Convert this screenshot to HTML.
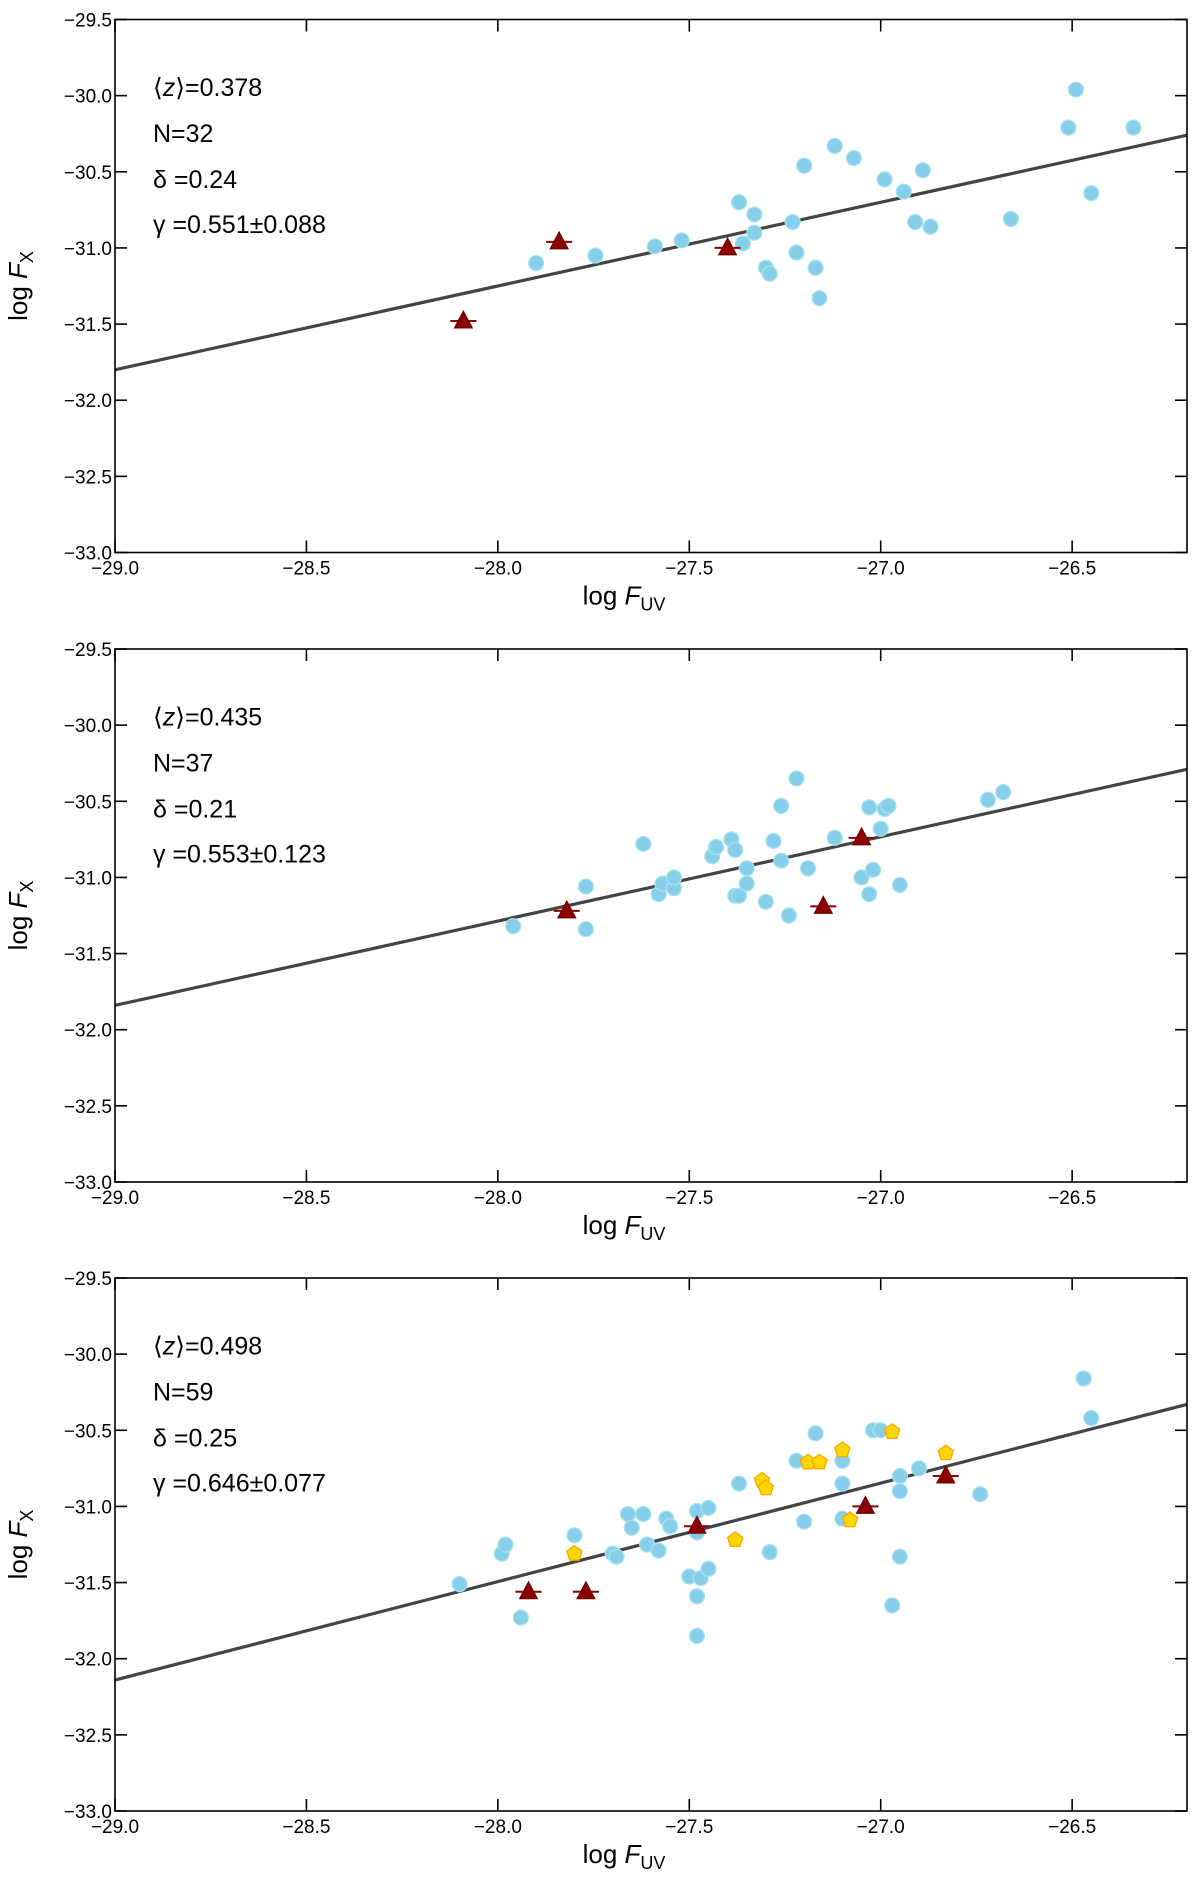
<!DOCTYPE html>
<html><head><meta charset="utf-8"><style>
html,body{margin:0;padding:0;background:#fff;}
svg{display:block;}
text{font-family:"Liberation Sans",sans-serif;fill:#000;}
</style></head><body>
<svg id="chart" width="1200" height="1886" viewBox="0 0 1200 1886" xmlns="http://www.w3.org/2000/svg"></svg>
<script>
// Panel 1 data
const p1BlueX=[-27.90,-27.745,-27.59,-27.52,-27.37,-27.33,-27.36,-27.33,-27.30,-27.29,-27.23,-27.22,-27.20,-27.17,-27.16,-27.12,-27.07,-26.99,-26.94,-26.91,-26.89,-26.87,-26.66,-26.51,-26.49,-26.45,-26.34];
const p1BlueY=[-31.10,-31.05,-30.99,-30.95,-30.70,-30.78,-30.97,-30.90,-31.13,-31.17,-30.83,-31.03,-30.46,-31.13,-31.33,-30.33,-30.41,-30.55,-30.63,-30.83,-30.49,-30.86,-30.81,-30.21,-29.96,-30.64,-30.21];
const p1TriX=[-28.09,-27.84,-27.40];
const p1TriY=[-31.48,-30.96,-31.00];
const p1Fit=[-31.80,-30.26];
const p1Text=["0.378","N=32","δ =0.24","γ =0.551±0.088"];
// Panel 2 data
const p2BlueX=[-27.96,-27.77,-27.77,-27.62,-27.58,-27.57,-27.54,-27.54,-27.44,-27.43,-27.39,-27.38,-27.38,-27.37,-27.35,-27.35,-27.30,-27.28,-27.26,-27.26,-27.24,-27.22,-27.19,-27.12,-27.05,-27.03,-27.03,-27.02,-27.00,-26.99,-26.98,-26.95,-26.72,-26.68];
const p2BlueY=[-31.32,-31.06,-31.34,-30.78,-31.11,-31.04,-31.07,-31.00,-30.86,-30.80,-30.75,-30.82,-31.12,-31.12,-31.04,-30.94,-31.16,-30.76,-30.89,-30.53,-31.25,-30.35,-30.94,-30.74,-31.00,-31.11,-30.54,-30.95,-30.68,-30.55,-30.53,-31.05,-30.49,-30.44];
const p2TriX=[-27.82,-27.15,-27.05];
const p2TriY=[-31.22,-31.19,-30.74];
const p2Fit=[-31.84,-30.29];
const p2Text=["0.435","N=37","δ =0.21","γ =0.553±0.123"];
// Panel 3 data
const p3BlueX=[-28.10,-27.99,-27.98,-27.94,-27.80,-27.70,-27.69,-27.66,-27.65,-27.62,-27.61,-27.58,-27.56,-27.55,-27.50,-27.48,-27.48,-27.47,-27.48,-27.48,-27.45,-27.45,-27.37,-27.29,-27.22,-27.20,-27.17,-27.10,-27.10,-27.10,-27.02,-27.00,-26.97,-26.95,-26.95,-26.95,-26.90,-26.74,-26.47,-26.45];
const p3BlueY=[-31.51,-31.31,-31.25,-31.73,-31.19,-31.31,-31.33,-31.05,-31.14,-31.05,-31.25,-31.29,-31.08,-31.13,-31.46,-31.03,-31.17,-31.47,-31.59,-31.85,-31.01,-31.41,-30.85,-31.30,-30.70,-31.10,-30.52,-30.70,-30.85,-31.08,-30.50,-30.50,-31.65,-30.80,-30.90,-31.33,-30.75,-30.92,-30.16,-30.42];
const p3PentX=[-27.80,-27.38,-27.31,-27.30,-27.19,-27.16,-27.10,-27.08,-26.97,-26.83];
const p3PentY=[-31.31,-31.22,-30.83,-30.88,-30.71,-30.71,-30.63,-31.09,-30.51,-30.65];
const p3TriX=[-27.92,-27.77,-27.48,-27.04,-26.83];
const p3TriY=[-31.56,-31.56,-31.13,-31.00,-30.80];
const p3Fit=[-32.14,-30.33];
const p3Text=["0.498","N=59","δ =0.25","γ =0.646±0.077"];

const xTicks=[-29.0,-28.5,-28.0,-27.5,-27.0,-26.5];
const yTicks=[-29.5,-30.0,-30.5,-31.0,-31.5,-32.0,-32.5,-33.0];
const XMIN=-29, XMAX=-26.2, YMIN=-33, YMAX=-29.5;
const L=115, R=1187, H=533;
const tops=[19.5,649,1278];
const NS="http://www.w3.org/2000/svg";
const svg=document.getElementById('chart');
function mk(tag,attrs,parent){const e=document.createElementNS(NS,tag);for(const k in attrs)e.setAttribute(k,attrs[k]);(parent||svg).appendChild(e);return e;}
function fmt(v){return (v<0?"\u2212":"")+Math.abs(v).toFixed(1);}

const panels=[
 {bx:p1BlueX,by:p1BlueY,tx:p1TriX,ty:p1TriY,px:[],py:[],fit:p1Fit,txt:p1Text},
 {bx:p2BlueX,by:p2BlueY,tx:p2TriX,ty:p2TriY,px:[],py:[],fit:p2Fit,txt:p2Text},
 {bx:p3BlueX,by:p3BlueY,tx:p3TriX,ty:p3TriY,px:p3PentX,py:p3PentY,fit:p3Fit,txt:p3Text}
];
panels.forEach((p,i)=>{
  const T=tops[i], B=T+H;
  const sx=v=>L+(v-XMIN)/(XMAX-XMIN)*(R-L);
  const sy=v=>B-(v-YMIN)/(YMAX-YMIN)*H;
  const g=mk('g',{});
  
  
  const ln=mk('line',{x1:sx(XMIN),y1:sy(p.fit[0]),x2:sx(XMAX),y2:sy(p.fit[1]),stroke:'#444',"stroke-width":3.2},g);
  
  
  p.bx.forEach((x,j)=>{
    const c=mk('circle',{cx:sx(x),cy:sy(p.by[j]),r:7.5,fill:'#87CEEB',stroke:'#a8e4f0',"stroke-width":1.2},g);
    
    
  });
  p.px.forEach((x,j)=>{
    const cx=sx(x),cy=sy(p.py[j]),r=8;let pts=[];
    for(let k=0;k<5;k++){const a=-Math.PI/2+k*2*Math.PI/5;pts.push((cx+r*Math.cos(a)).toFixed(1)+','+(cy+r*Math.sin(a)).toFixed(1));}
    const pg=mk('polygon',{points:pts.join(' '),fill:'#FFD700',stroke:'#FFA500',"stroke-width":1.3},g);
    
    
  });
  p.tx.forEach((x,j)=>{
    const cx=sx(x),cy=sy(p.ty[j]);
    const eb=mk('line',{x1:cx-13,y1:cy,x2:cx+13,y2:cy,stroke:'#8B0000',"stroke-width":2},g);
    
    
    const t=mk('polygon',{points:`${cx},${cy-10} ${cx-9},${cy+7} ${cx+9},${cy+7}`,fill:'#8B0000',stroke:'#6b0000',"stroke-width":1},g);
    
    
  });
  const fr=mk('rect',{x:L,y:T,width:R-L,height:H,fill:'none',stroke:'#000',"stroke-width":1.6},g);
  
  
  xTicks.forEach(v=>{
    const x=sx(v);
    mk('line',{x1:x,y1:B,x2:x,y2:B-12,stroke:'#000',"stroke-width":1.6},g);
    mk('line',{x1:x,y1:T,x2:x,y2:T+12,stroke:'#000',"stroke-width":1.6},g);
    const tl=mk('text',{x:x,y:B+22,"text-anchor":"middle","font-size":19},g);
    tl.textContent=fmt(v);
    
    
  });
  yTicks.forEach(v=>{
    const y=sy(v);
    mk('line',{x1:L,y1:y,x2:L+12,y2:y,stroke:'#000',"stroke-width":1.6},g);
    mk('line',{x1:R,y1:y,x2:R-12,y2:y,stroke:'#000',"stroke-width":1.6},g);
    const tl=mk('text',{x:L-3,y:y+7,"text-anchor":"end","font-size":19},g);
    tl.textContent=fmt(v);
    
    
  });
  const xt=mk('text',{x:(L+R)/2-27,y:B+52,"text-anchor":"middle","font-size":26},g);
  xt.innerHTML='log <tspan font-style="italic">F</tspan><tspan font-size="18" dy="6">UV</tspan>';
  
  
  const yt=mk('text',{x:0,y:0,"text-anchor":"middle","font-size":26,transform:`translate(27,${T+H/2}) rotate(-90)`},g);
  yt.innerHTML='log <tspan font-style="italic">F</tspan><tspan font-size="18" dy="6">X</tspan>';
  
  
  const ys=[96,142,188,233];
  p.txt.forEach((s,k)=>{
    const a=mk('text',{x:153,y:T+ys[k]-19.5,"font-size":25},g);
    if(k===0){a.innerHTML='⟨<tspan font-style="italic">z</tspan>⟩='+s;}
    else a.textContent=s;
    
    
  });
});
</script>
</body></html>
